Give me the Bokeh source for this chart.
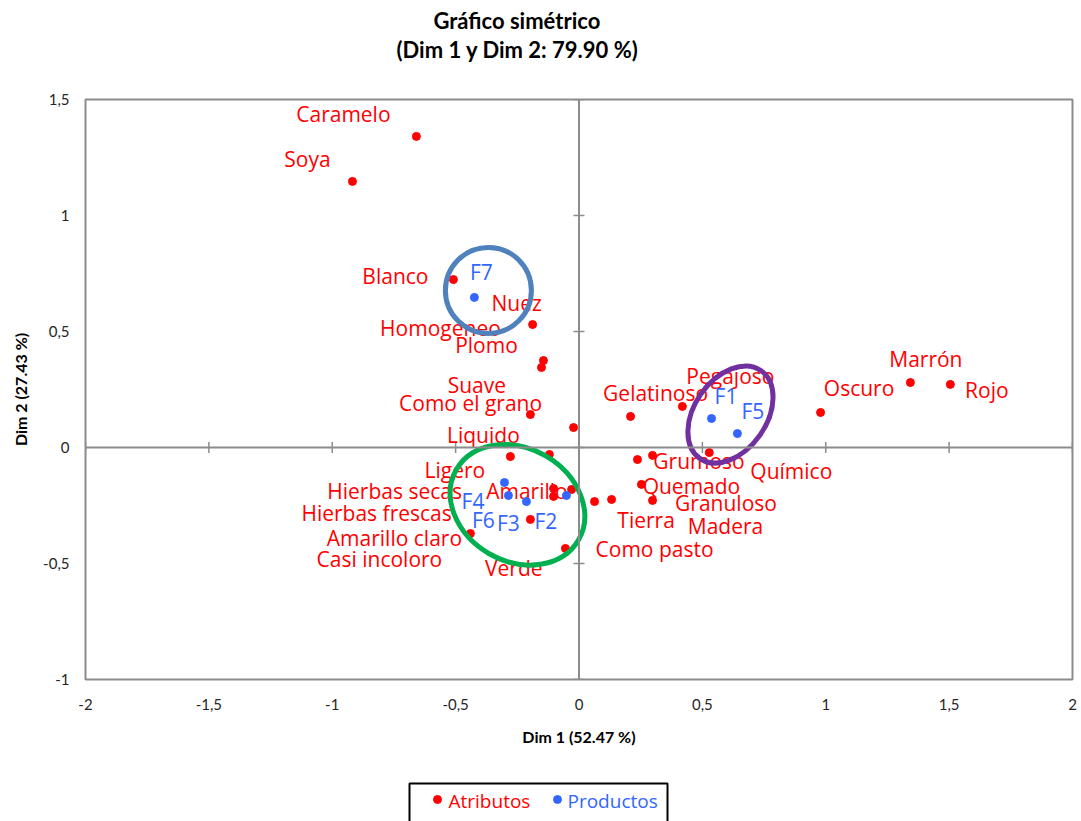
import math
from bokeh.plotting import figure
from bokeh.models import ColumnDataSource, Range1d, FixedTicker, Span, Title
from bokeh.layouts import column
from bokeh.core.properties import value
from bokeh.embed import file_html
from bokeh.resources import INLINE

# ---------------- data ----------------
chart_title = "Gráfico simétrico"
chart_subtitle = "(Dim 1 y Dim 2: 79.90 %)"
x_title = "Dim 1 (52.47 %)"
y_title = "Dim 2 (27.43 %)"

attr_names = ["Caramelo", "Soya", "Blanco", "Nuez", "Homogeneo", "Plomo", "Suave",
              "Como el grano", "Ligero", "Liquido", "Amarillo", "Hierbas secas",
              "Hierbas frescas", "Casi incoloro", "Amarillo claro", "Verde",
              "Como pasto", "Tierra", "Gelatinoso", "Pegajoso", "Químico", "Granuloso",
              "Grumoso", "Quemado", "Madera", "Oscuro", "Marrón", "Rojo"]
attr_x = [-0.659, -0.918, -0.509, -0.188, -0.144, -0.152, -0.197,
          -0.022, -0.278, -0.120, -0.103, -0.103,
          -0.030, -0.197, -0.440, -0.055,
          0.063, 0.132, 0.209, 0.419, 0.528, 0.237,
          0.298, 0.253, 0.298, 0.979, 1.343, 1.505]
attr_y = [1.341, 1.147, 0.724, 0.530, 0.375, 0.345, 0.142,
          0.086, -0.039, -0.030, -0.177, -0.211,
          -0.181, -0.310, -0.371, -0.435,
          -0.233, -0.224, 0.134, 0.177, -0.022, -0.052,
          -0.034, -0.159, -0.228, 0.151, 0.280, 0.272]

prod_names = ["F1", "F2", "F3", "F4", "F5", "F6", "F7"]
prod_x = [0.537, -0.051, -0.213, -0.302, 0.642, -0.286, -0.424]
prod_y = [0.125, -0.207, -0.233, -0.151, 0.060, -0.207, 0.647]

groups = [["F7"], ["F1", "F5"], ["F2", "F3", "F4", "F6"]]

x_ticks = [-2, -1.5, -1, -0.5, 0, 0.5, 1, 1.5, 2]
x_tick_labels = ["-2", "-1,5", "-1", "-0,5", "0", "0,5", "1", "1,5", "2"]
y_ticks = [-1, -0.5, 0, 0.5, 1, 1.5]
y_tick_labels = ["-1", "-0,5", "0", "0,5", "1", "1,5"]

legend_labels = ["Atributos", "Productos"]

# ---------------- styles ----------------
RED = "#FF0000"
BLUE = "#3366FF"
GRAY = "#8C8C8C"
FONT = "Lato"
LFONT = "Open Sans"
LABEL_SIZE = "21px"

# label offsets in screen pixels (dx right, dy down)
attr_dx = [-73, -45, -58, -16, -103, -55, -53.5,
           -103, -55.5, -66, -26.6, -159,
           -195, -151, -76, -51.6,
           60, 34.5, 25, 48, 82, 88.5,
           46.5, 50, 73, 38.5, 15.5, 36.5]
attr_dy = [-22, -22, -4, -21.5, -32.5, -22, -29.5,
           -24.5, 13, -19, 2.5, -5.5,
           24, 40, 4.5, 19.5,
           47, 20.5, -23.5, -30, 18.5, 43.5,
           5.5, 1.5, 25.5, -24, -23.5, 6]
prod_dx = [14.5, -20.6, -18, -31.5, 15.5, -25, 7]
prod_dy = [-22.5, 25.5, 21.5, 18.5, -22.5, 24, -25]

group_colors = ["#4F81BD", "#7030A0", "#00B050"]
group_shift_px = [(14, 7), (6, 11.5), (-9, -11)]   # (right, up)
group_w = [86, 107, 141]
group_h = [86, 72, 113]
group_angle = [0, 55, -30]

W, H = 1078, 760
FL, FR, FT, FB = 85, 6, 99, 81
XU = (W - FL - FR) / 4.0
YU = (H - FT - FB) / 2.5

# ---------------- main figure ----------------
p = figure(width=W, height=H, x_range=Range1d(-2, 2), y_range=Range1d(-1, 1.5),
           output_backend="svg", toolbar_location=None,
           min_border_left=FL, min_border_right=FR, min_border_top=FT, min_border_bottom=FB,
           background_fill_color="white", border_fill_color="white")
p.xgrid.visible = False
p.ygrid.visible = False
p.outline_line_color = GRAY
p.outline_line_width = 2

for ax, ticks, labels in ((p.xaxis[0], x_ticks, x_tick_labels), (p.yaxis[0], y_ticks, y_tick_labels)):
    ax.ticker = FixedTicker(ticks=ticks)
    ax.major_label_overrides = {t: l for t, l in zip(ticks, labels)}
    ax.axis_line_color = None
    ax.major_tick_line_color = None
    ax.minor_tick_line_color = None
    ax.major_tick_out = 0
    ax.major_tick_in = 0
    ax.major_label_text_font = FONT
    ax.major_label_text_font_size = "15px"
    ax.major_label_text_color = "#262626"
    ax.axis_label_text_font = FONT
    ax.axis_label_text_font_style = "bold"
    ax.axis_label_text_font_size = "16px"
    ax.axis_label_text_color = "#000000"

p.xaxis.axis_label = x_title
p.yaxis.axis_label = y_title
p.xaxis.major_label_standoff = 19
p.xaxis.axis_label_standoff = 14
p.yaxis.major_label_standoff = 16
p.yaxis.axis_label_standoff = 10

# central axes
p.add_layout(Span(location=0, dimension="width", line_color=GRAY, line_width=2))
p.add_layout(Span(location=0, dimension="height", line_color=GRAY, line_width=2))
p.scatter(x=x_ticks, y=[0] * len(x_ticks), marker="dash", angle=math.pi / 2, size=11,
          line_color=GRAY, line_width=1.5)
p.scatter(x=[0] * len(y_ticks), y=y_ticks, marker="dash", size=11,
          line_color=GRAY, line_width=1.5)

# titles: spacer (nearest frame), subtitle, then main title (outermost)
spacer = Title(text=" ", text_font_size="1px", standoff=34)
p.add_layout(spacer, "above")
sub = Title(text=chart_subtitle, align="left", offset=311, text_font=FONT,
            text_font_size="22px", text_font_style="bold", text_color="#000000", standoff=0)
p.add_layout(sub, "above")
p.title.text = chart_title
p.title.align = "left"
p.title.offset = 348
p.title.text_font = FONT
p.title.text_font_size = "22px"
p.title.text_font_style = "bold"
p.title.text_color = "#000000"
p.title.standoff = 0

# points
asrc = ColumnDataSource(dict(x=attr_x, y=attr_y, name=attr_names, dx=attr_dx, dy=attr_dy))
psrc = ColumnDataSource(dict(x=prod_x, y=prod_y, name=prod_names, dx=prod_dx, dy=prod_dy))

p.text(x="x", y="y", text="name", x_offset="dx", y_offset="dy", source=asrc,
       text_align="center", text_baseline="middle", text_font=value(LFONT),
       text_font_size=LABEL_SIZE, text_color=RED)
p.text(x="x", y="y", text="name", x_offset="dx", y_offset="dy", source=psrc,
       text_align="center", text_baseline="middle", text_font=value(LFONT),
       text_font_size=LABEL_SIZE, text_color=BLUE)
p.scatter(x="x", y="y", source=asrc, size=8, fill_color=RED, line_color=RED)
p.scatter(x="x", y="y", source=psrc, size=8, fill_color=BLUE, line_color=BLUE)

# group ellipses around product clusters
gx, gy = [], []
for members, (sx, sy) in zip(groups, group_shift_px):
    idx = [prod_names.index(m) for m in members]
    gx.append(sum(prod_x[i] for i in idx) / len(idx) + sx / XU)
    gy.append(sum(prod_y[i] for i in idx) / len(idx) + sy / YU)
p.ellipse(x=gx, y=gy, width=group_w, height=group_h,
          angle=[math.radians(a) for a in group_angle],
          width_units="screen", height_units="screen",
          fill_color=None, line_color=group_colors, line_width=5)

# ---------------- legend strip ----------------
LH = 61
p2 = figure(width=W, height=LH, x_range=Range1d(FL, W - FR), y_range=Range1d(0, LH),
            output_backend="svg", toolbar_location=None,
            min_border_left=FL, min_border_right=FR, min_border_top=0, min_border_bottom=0,
            x_axis_location=None, y_axis_location=None)
p2.outline_line_color = None
p2.grid.visible = False
p2.quad(left=[409], right=[667], top=[38], bottom=[-5], fill_color=None,
        line_color="black", line_width=2)
p2.scatter(x=[437, 557], y=[22, 22], size=8, fill_color=[RED, BLUE], line_color=[RED, BLUE])
p2.text(x=[448, 567], y=[21, 21], text=legend_labels, text_align="left",
        text_baseline="middle", text_font=value(LFONT), text_font_size="19px",
        text_color=[RED, BLUE])

layout = column(p, p2, spacing=0)
open("out.html", "w").write(file_html(layout, INLINE))
